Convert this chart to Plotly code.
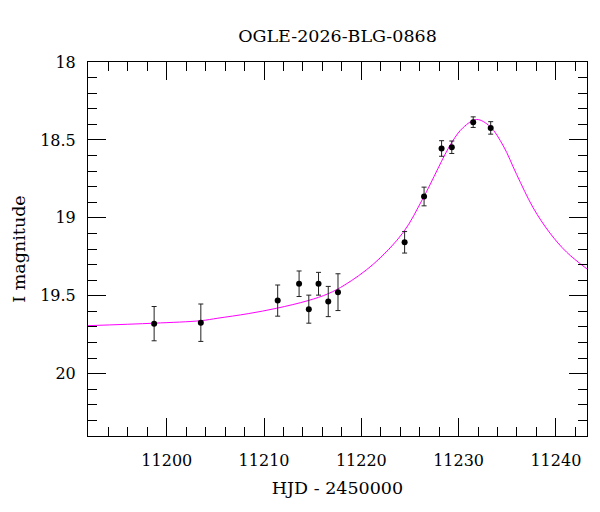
import plotly.graph_objects as go

# Observed photometry
hjd = [11198.7, 11203.5, 11211.4, 11213.6, 11214.6, 11215.6, 11216.6, 11217.6,
       11224.45, 11226.45, 11228.25, 11229.3, 11231.5, 11233.3]
mag = [19.679, 19.673, 19.531, 19.423, 19.586, 19.423, 19.537, 19.477,
       19.157, 18.863, 18.555, 18.547, 18.386, 18.423]
err = [0.11, 0.12, 0.10, 0.082, 0.09, 0.073, 0.097, 0.118,
       0.069, 0.06, 0.05, 0.04, 0.034, 0.04]

# Model curve
model_t = [11191.9, 11198.7, 11203.5, 11205.25, 11208.36, 11211.31, 11214.53,
           11216.59, 11218.31, 11221.22, 11224.31, 11226.37, 11229.29, 11230.48,
           11231.86, 11233.23, 11234.60, 11235.96, 11237.67, 11239.38, 11241.10,
           11243.22]
model_m = [19.692, 19.676, 19.660, 19.644, 19.615, 19.580, 19.531,
           19.487, 19.430, 19.298, 19.093, 18.871, 18.517, 18.420,
           18.369, 18.414, 18.539, 18.721, 18.936, 19.097, 19.220,
           19.329]

title = "OGLE-2026-BLG-0868"
xlabel = "HJD - 2450000"
ylabel = "I magnitude"

FONT = "DejaVu Serif"

fig = go.Figure()
fig.add_trace(go.Scatter(x=model_t, y=model_m, mode="lines",
                         line=dict(color="#ff00ff", width=1, shape="spline", smoothing=1),
                         hoverinfo="skip", showlegend=False))
fig.add_trace(go.Scatter(x=hjd, y=mag, mode="markers",
                         marker=dict(color="black", size=6),
                         error_y=dict(type="data", array=err, visible=True,
                                      color="#222222", thickness=1, width=2.5),
                         showlegend=False))

axis_common = dict(showgrid=False, zeroline=False, showline=True, linecolor="black",
                   linewidth=1, mirror="allticks", ticks="inside", ticklen=18,
                   tickcolor="black", tickwidth=1,
                   tickfont=dict(family=FONT, size=16, color="black"))

fig.update_xaxes(range=[11191.9, 11243.2], dtick=10, tick0=11200, tickformat="d",
                 minor=dict(dtick=2, ticklen=9, ticks="inside", tickcolor="black"),
                 title=dict(text=xlabel, font=dict(family=FONT, size=17.5, color="black"),
                            standoff=12),
                 ticklabelstandoff=10,
                 **axis_common)
fig.update_yaxes(range=[20.4, 18.0], dtick=0.5, tick0=18,
                 minor=dict(dtick=0.1, ticklen=9, ticks="inside", tickcolor="black"),
                 title=dict(text=ylabel, font=dict(family=FONT, size=17.5, color="black"),
                            standoff=10),
                 ticklabelstandoff=8,
                 **axis_common)

fig.update_layout(
    width=600, height=512,
    margin=dict(l=88, r=13, t=62, b=76),
    paper_bgcolor="white", plot_bgcolor="white",
    title=dict(text=title, x=0.5625, xanchor="center", y=0.93, yanchor="middle",
               font=dict(family=FONT, size=17.5, color="black")),
    font=dict(family=FONT),
)

fig.write_html("out.html")
